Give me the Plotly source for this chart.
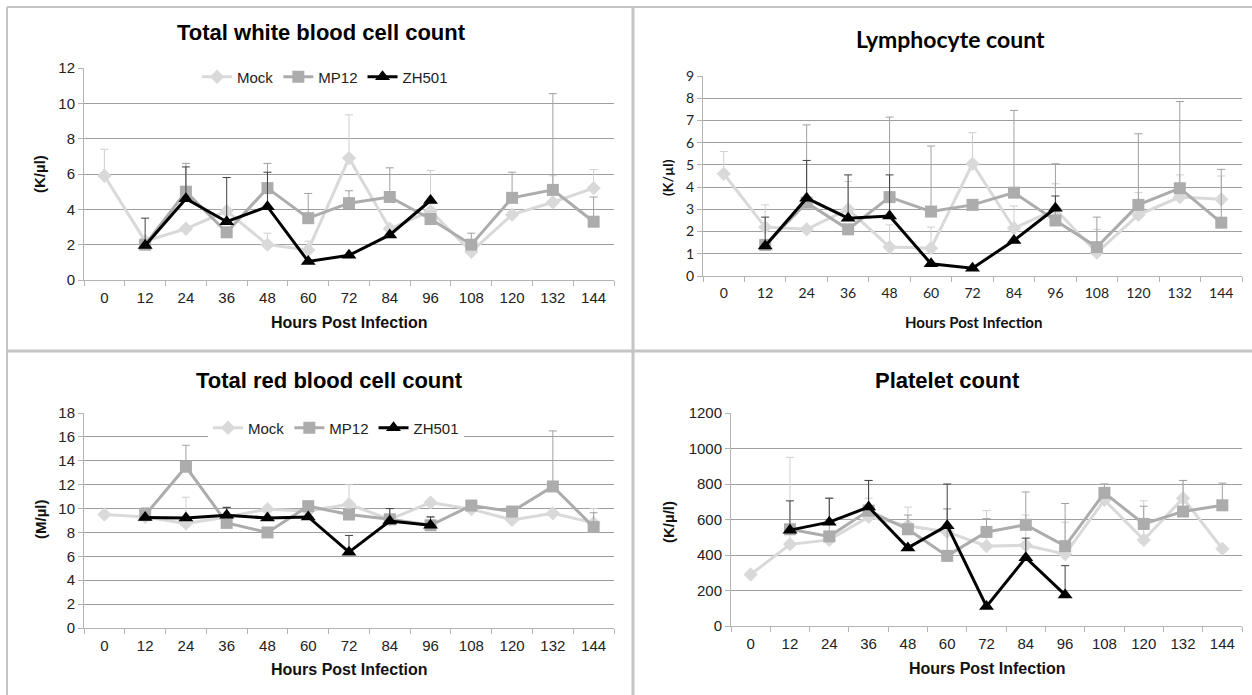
import plotly.graph_objects as go

W, H = 1252, 695

hours = ["0", "12", "24", "36", "48", "60", "72", "84", "96", "108", "120", "132", "144"]
series_names = ["Mock", "MP12", "ZH501"]

# Total white blood cell count (K/ul)
wbc_mock = [5.9, 2.2, 2.9, 3.9, 2.0, 1.7, 6.9, 2.9, 3.9, 1.6, 3.7, 4.4, 5.2]
wbc_mock_err = [1.5, 0, 0, 0, 0.65, 0.5, 2.45, 0, 2.3, 0, 0, 1.5, 1.05]
wbc_mp12 = [None, 2.0, 5.0, 2.7, 5.2, 3.5, 4.35, 4.7, 3.45, 2.0, 4.65, 5.1, 3.3]
wbc_mp12_err = [0, 0, 1.6, 0, 1.4, 1.4, 0.7, 1.65, 0, 0.65, 1.45, 5.45, 1.4]
wbc_zh501 = [None, 1.95, 4.6, 3.3, 4.15, 1.05, 1.4, 2.55, 4.5, None, None, None, None]
wbc_zh501_err = [0, 1.55, 1.8, 2.5, 1.95, 0, 0, 0, 0, 0, 0, 0, 0]

# Lymphocyte count (K/ul)
lym_mock = [4.6, 2.2, 2.1, 3.0, 1.3, 1.25, 5.05, 2.15, 3.0, 1.05, 2.75, 3.55, 3.45]
lym_mock_err = [1.0, 1.0, 0, 1.25, 1.0, 0.95, 1.4, 1.0, 1.15, 1.05, 1.0, 1.0, 1.05]
lym_mp12 = [None, 1.4, 3.3, 2.1, 3.55, 2.9, 3.2, 3.75, 2.5, 1.3, 3.2, 3.95, 2.4]
lym_mp12_err = [0, 0, 3.5, 0, 3.6, 2.95, 0, 3.7, 2.55, 1.35, 3.2, 3.9, 2.4]
lym_zh501 = [None, 1.35, 3.5, 2.6, 2.7, 0.55, 0.35, 1.6, 3.05, None, None, None, None]
lym_zh501_err = [0, 1.3, 1.7, 1.95, 1.85, 0, 0, 0, 0.55, 0, 0, 0, 0]

# Total red blood cell count (M/ul)
rbc_mock = [9.5, 9.3, 8.75, 9.3, 9.95, 9.8, 10.35, 9.1, 10.5, 9.95, 9.05, 9.6, 8.8]
rbc_mock_err = [0, 0.8, 2.2, 0.8, 0, 0, 1.65, 0, 0, 0, 0, 0, 1.2]
rbc_mp12 = [None, 9.45, 13.5, 8.8, 8.0, 10.2, 9.5, 9.1, 8.6, 10.25, 9.75, 11.85, 8.45]
rbc_mp12_err = [0, 0, 1.8, 1.3, 0, 0, 0, 0.9, 0.7, 0, 0, 4.65, 1.2]
rbc_zh501 = [None, 9.25, 9.2, 9.45, 9.2, 9.3, 6.35, 8.95, 8.6, None, None, None, None]
rbc_zh501_err = [0, 0, 0, 0.65, 0, 0, 1.4, 1.05, 0.7, 0, 0, 0, 0]

# Platelet count (K/ul)
plt_mock = [290, 460, 485, 615, 565, 530, 450, 455, 405, 710, 485, 720, 435]
plt_mock_err = [0, 490, 0, 105, 105, 130, 200, 170, 180, 90, 220, 100, 0]
plt_mp12 = [None, 545, 505, 650, 545, 395, 530, 570, 450, 750, 575, 645, 680]
plt_mp12_err = [0, 0, 215, 170, 80, 265, 75, 185, 240, 50, 100, 175, 125]
plt_zh501 = [None, 540, 585, 670, 440, 565, 110, 385, 175, None, None, None, None]
plt_zh501_err = [0, 165, 135, 150, 0, 235, 0, 110, 165, 0, 0, 0, 0]

panels = [
    dict(title="Total white blood cell count", ytitle="(K/µl)", ymax=12, dtick=2,
         data=[(wbc_mock, wbc_mock_err), (wbc_mp12, wbc_mp12_err), (wbc_zh501, wbc_zh501_err)],
         px=(84, 614), py=(68, 280), font="Liberation Sans, Arial", legend="legend",
         tpos=(321, 33), xtpos=(349, 323), ytpos=(40, 174), tsize=22, asize=16, ksize=15),
    dict(title="Lymphocyte count", ytitle="(K/µl)", ymax=9, dtick=1,
         data=[(lym_mock, lym_mock_err), (lym_mp12, lym_mp12_err), (lym_zh501, lym_zh501_err)],
         px=(703, 1242), py=(76, 276), font="Lato, Open Sans", legend=None,
         tpos=(950, 39), xtpos=(973, 322), ytpos=(668, 178), tsize=23, asize=15, ksize=14),
    dict(title="Total red blood cell count", ytitle="(M/µl)", ymax=18, dtick=2,
         data=[(rbc_mock, rbc_mock_err), (rbc_mp12, rbc_mp12_err), (rbc_zh501, rbc_zh501_err)],
         px=(84, 614), py=(413, 628), font="Liberation Sans, Arial", legend="legend2",
         tpos=(329, 380), xtpos=(349, 669), ytpos=(40, 520), tsize=22, asize=16, ksize=15),
    dict(title="Platelet count", ytitle="(K/µ/l)", ymax=1200, dtick=200,
         data=[(plt_mock, plt_mock_err), (plt_mp12, plt_mp12_err), (plt_zh501, plt_zh501_err)],
         px=(731, 1242), py=(413, 626), font="Liberation Sans, Arial", legend=None,
         tpos=(947, 380), xtpos=(987, 668), ytpos=(668, 522), tsize=22, asize=16, ksize=15),
]

colors = ["#d9d9d9", "#acacac", "#000000"]
err_colors = ["#cfcfcf", "#a0a0a0", "#404040"]
symbols = ["diamond", "square", "triangle-up"]
msizes = [11, 12, 13]

fig = go.Figure()
annotations = []
layout = {}


def px2x(v):
    return v / W


def px2y(v):
    return 1 - v / H


for i, p in enumerate(panels):
    n = "" if i == 0 else str(i + 1)
    xa, ya = "x" + n, "y" + n
    for s, ((vals, err), name) in enumerate(zip(p["data"], series_names)):
        tr = dict(
            x=hours, y=vals, name=name, mode="lines+markers",
            xaxis=xa, yaxis=ya,
            line=dict(color=colors[s], width=3),
            marker=dict(symbol=symbols[s], size=msizes[s], color=colors[s]),
            error_y=dict(type="data", symmetric=False, array=err,
                         arrayminus=[0] * len(err), color=err_colors[s],
                         thickness=1, width=4),
            connectgaps=False, cliponaxis=False,
            showlegend=p["legend"] is not None,
        )
        if p["legend"]:
            tr["legend"] = p["legend"]
        fig.add_trace(go.Scatter(**tr))
    layout["xaxis" + n] = dict(
        domain=[px2x(p["px"][0]), px2x(p["px"][1])], anchor=ya,
        type="category", categoryorder="array", categoryarray=hours,
        range=[-0.5, 12.5], showgrid=False, zeroline=False,
        showline=True, linecolor="#b3b3b3", linewidth=1,
        ticks="outside", tickson="boundaries", ticklen=5, tickcolor="#b3b3b3",
        ticklabelstandoff=4, automargin=False,
        tickfont=dict(family=p["font"], size=p["ksize"], color="#222"),
    )
    layout["yaxis" + n] = dict(
        domain=[px2y(p["py"][1]), px2y(p["py"][0])], anchor=xa,
        range=[0, p["ymax"]], dtick=p["dtick"], tick0=0,
        showgrid=True, gridcolor="#9e9e9e", gridwidth=1, zeroline=False,
        showline=True, linecolor="#b3b3b3", linewidth=1,
        ticks="outside", ticklen=5, tickcolor="#b3b3b3", automargin=False,
        tickfont=dict(family=p["font"], size=p["ksize"], color="#222"),
    )
    annotations.append(dict(text="<b>%s</b>" % p["title"], x=px2x(p["tpos"][0]), y=px2y(p["tpos"][1]),
                            xref="paper", yref="paper", showarrow=False, xanchor="center", yanchor="middle",
                            font=dict(family=p["font"], size=p["tsize"], color="#000")))
    annotations.append(dict(text="<b>Hours Post Infection</b>", x=px2x(p["xtpos"][0]), y=px2y(p["xtpos"][1]),
                            xref="paper", yref="paper", showarrow=False, xanchor="center", yanchor="middle",
                            font=dict(family=p["font"], size=p["asize"], color="#111")))
    annotations.append(dict(text="<b>%s</b>" % p["ytitle"], x=px2x(p["ytpos"][0]), y=px2y(p["ytpos"][1]),
                            xref="paper", yref="paper", showarrow=False, xanchor="center", yanchor="middle",
                            textangle=-90,
                            font=dict(family=p["font"], size=p["ksize"], color="#111")))

legend_common = dict(orientation="h", xanchor="center", yanchor="middle", bgcolor="#ffffff",
                     font=dict(family="Liberation Sans, Arial", size=15, color="#222"),
                     itemwidth=30, tracegroupgap=0, itemclick=False)
layout["legend"] = dict(x=px2x(325), y=px2y(77), **legend_common)
layout["legend2"] = dict(x=px2x(336), y=px2y(428), **legend_common)

frame = "#c4c4c4"
shapes = [
    dict(type="line", xref="paper", yref="paper", x0=px2x(7), x1=1, y0=px2y(7), y1=px2y(7),
         line=dict(color=frame, width=2), layer="below"),
    dict(type="line", xref="paper", yref="paper", x0=px2x(7), x1=px2x(7), y0=0, y1=px2y(7),
         line=dict(color=frame, width=2), layer="below"),
    dict(type="line", xref="paper", yref="paper", x0=px2x(633), x1=px2x(633), y0=0, y1=px2y(7),
         line=dict(color=frame, width=3), layer="below"),
    dict(type="line", xref="paper", yref="paper", x0=px2x(7), x1=1, y0=px2y(351), y1=px2y(351),
         line=dict(color=frame, width=3), layer="below"),
]

fig.update_layout(
    width=W, height=H, margin=dict(l=0, r=0, t=0, b=0, pad=0, autoexpand=False),
    paper_bgcolor="#ffffff", plot_bgcolor="#ffffff",
    annotations=annotations, shapes=shapes, **layout,
)

fig.write_html("out.html")
